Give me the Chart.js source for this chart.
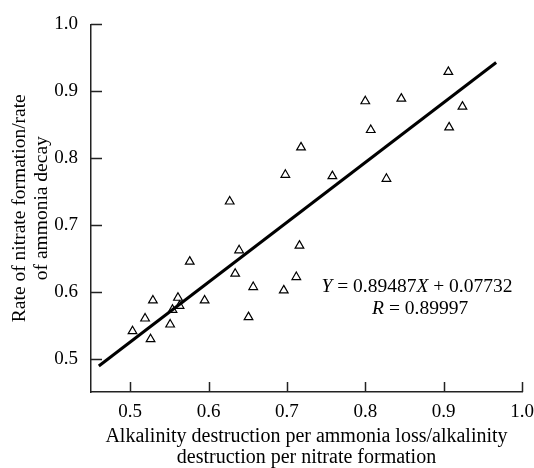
<!DOCTYPE html>
<html>
<head>
<meta charset="utf-8">
<script src="https://cdn.jsdelivr.net/npm/chart.js@4.4.1/dist/chart.umd.min.js"></script>
<style>
  body { margin: 0; background: #fff; }
  #wrap { width: 534px; height: 468px; }
</style>
</head>
<body>
<div id="wrap"><canvas id="ratioChart"></canvas></div>
<script>
// valeurs
const alkRatio = [0.503, 0.519, 0.526, 0.529, 0.551, 0.554, 0.561, 0.563, 0.576, 0.595,
  0.627, 0.634, 0.639, 0.651, 0.657, 0.696, 0.698, 0.712, 0.716, 0.718,
  0.758, 0.800, 0.807, 0.827, 0.846, 0.906, 0.907, 0.924];
const rateRatio = [0.541, 0.560, 0.529, 0.587, 0.551, 0.573, 0.591, 0.579, 0.645, 0.587,
  0.735, 0.627, 0.662, 0.562, 0.607, 0.602, 0.775, 0.622, 0.669, 0.816,
  0.773, 0.885, 0.842, 0.769, 0.889, 0.929, 0.846, 0.877];
const fitX = [0.46, 0.967];
const fitY = [0.489, 0.943];
const xTicks = [0.5, 0.6, 0.7, 0.8, 0.9, 1.0];
const yTicks = [0.5, 0.6, 0.7, 0.8, 0.9, 1.0];

const serif = "'Liberation Serif', 'DejaVu Serif', serif";

// petits traits de graduation vers l'interieur + equation
const insideTicks = {
  id: "insideTicks",
  afterDraw(chart) {
    const c = chart.ctx;
    const a = chart.chartArea;
    const sx = chart.scales.x, sy = chart.scales.y;
    c.save();
    c.strokeStyle = "#222";
    c.lineWidth = 1.5;
    c.beginPath();
    xTicks.forEach(v => {
      const p = Math.round(sx.getPixelForValue(v)) + 0.5;
      c.moveTo(p, a.bottom);
      c.lineTo(p, a.bottom - 10);
    });
    yTicks.forEach(v => {
      const p = Math.round(sy.getPixelForValue(v)) + 0.5;
      c.moveTo(a.left, p);
      c.lineTo(a.left + 11, p);
    });
    c.stroke();

    // texte de la regression
    const parts1 = [["Y", true], [" = 0.89487", false], ["X", true], [" + 0.07732", false]];
    const parts2 = [["R", true], [" = 0.89997", false]];
    const drawParts = (parts, cx, cy) => {
      let w = 0;
      parts.forEach(p => {
        c.font = (p[1] ? "italic " : "") + "19.5px " + serif;
        w += c.measureText(p[0]).width;
      });
      let x = cx - w / 2;
      c.fillStyle = "#000";
      c.textBaseline = "middle";
      c.textAlign = "left";
      parts.forEach(p => {
        c.font = (p[1] ? "italic " : "") + "19.5px " + serif;
        c.fillText(p[0], x, cy);
        x += c.measureText(p[0]).width;
      });
    };
    drawParts(parts1, sx.getPixelForValue(0.866), sy.getPixelForValue(0.607));
    drawParts(parts2, sx.getPixelForValue(0.870), sy.getPixelForValue(0.575));
    c.restore();
  }
};

const ctx = document.getElementById("ratioChart").getContext("2d");

new Chart(ctx, {
  type: "scatter",
  data: {
    datasets: [
      {
        label: "fit",
        type: "line",
        data: fitX.map((x, i) => ({ x: x, y: fitY[i] })),
        borderColor: "#000",
        borderWidth: 3,
        pointRadius: 0,
        fill: false,
      },
      {
        label: "mesures",
        data: alkRatio.map((x, i) => ({ x: x, y: rateRatio[i] })),
        pointStyle: "triangle",
        pointRadius: 5,
        pointBorderWidth: 1.2,
        borderColor: "#000",
        backgroundColor: "rgba(255,255,255,0)",
      },
    ],
  },
  options: {
    responsive: true,
    maintainAspectRatio: false,
    animation: false,
    layout: { padding: { left: 0, top: 23, right: 12, bottom: 0 } },
    plugins: {
      legend: { display: false },
      tooltip: { enabled: false },
    },
    scales: {
      x: {
        type: "linear",
        min: 0.45,
        max: 1.0,
        afterFit: (s) => { s.height = 76; s.paddingLeft = 0; s.paddingRight = 0; },
        afterBuildTicks: (s) => { s.ticks = xTicks.map(v => ({ value: v })); },
        grid: { drawOnChartArea: false, drawTicks: false },
        border: { color: "#222", width: 1.5 },
        ticks: {
          color: "#000",
          padding: 9,
          font: { family: serif, size: 19 },
          callback: (v) => v.toFixed(1),
        },
        title: {
          display: true,
          text: ["Alkalinity destruction per ammonia loss/alkalinity", "destruction per nitrate formation"],
          color: "#000",
          font: { family: serif, size: 20, lineHeight: 1.08 },
          padding: { top: 4, bottom: -1 },
        },
      },
      y: {
        type: "linear",
        min: 0.45,
        max: 1.0,
        afterFit: (s) => { s.width = 91; },
        afterBuildTicks: (s) => { s.ticks = yTicks.map(v => ({ value: v })); },
        grid: { drawOnChartArea: false, drawTicks: false },
        border: { color: "#222", width: 1.5 },
        ticks: {
          color: "#000",
          padding: 13,
          font: { family: serif, size: 19 },
          callback: (v) => v.toFixed(1),
        },
        title: {
          display: true,
          text: ["Rate of nitrate formation/rate", "of ammonia decay"],
          color: "#000",
          font: { family: serif, size: 19.5, lineHeight: 1.17 },
          padding: { top: 8, bottom: 0 },
        },
      },
    },
  },
  plugins: [insideTicks],
});
</script>
</body>
</html>
